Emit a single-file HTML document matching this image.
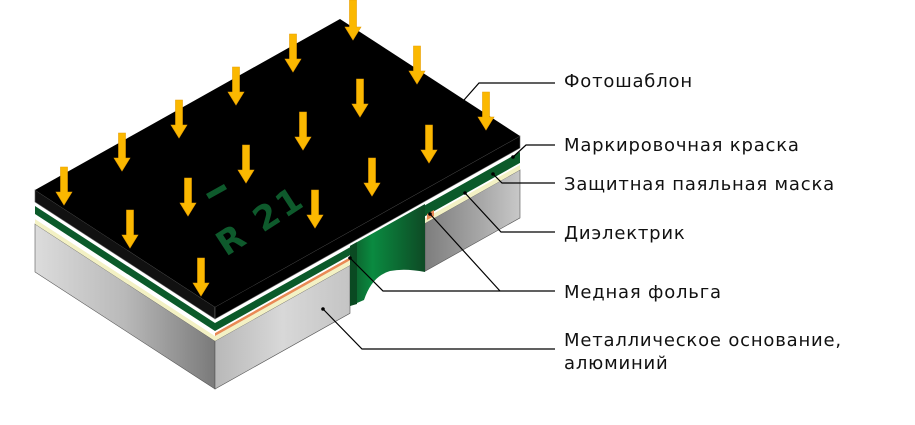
<!DOCTYPE html>
<html><head><meta charset="utf-8"><style>
body{margin:0;background:#fff;width:915px;height:425px;overflow:hidden}
svg{display:block}
text{font-family:"DejaVu Sans","Liberation Sans",sans-serif;font-size:18px;letter-spacing:0.8px;fill:#111}
</style></head><body>
<svg width="915" height="425" viewBox="0 0 915 425" xmlns="http://www.w3.org/2000/svg">
<defs>
<linearGradient id="gl" x1="0" x2="1" y1="0" y2="0"><stop offset="0" stop-color="#dcdcdc"/><stop offset="0.5" stop-color="#b9b9b9"/><stop offset="1" stop-color="#7a7a7a"/></linearGradient>
<linearGradient id="gf" x1="0" x2="1" y1="0" y2="0"><stop offset="0" stop-color="#b8b8b8"/><stop offset="0.5" stop-color="#d8d8d8"/><stop offset="1" stop-color="#c4c4c4"/></linearGradient>
<linearGradient id="gr" x1="0" x2="1" y1="0" y2="0"><stop offset="0" stop-color="#7d7d7d"/><stop offset="0.6" stop-color="#a8a8a8"/><stop offset="1" stop-color="#c8c8c8"/></linearGradient>
<linearGradient id="gw" x1="0" x2="1" y1="0" y2="0"><stop offset="0" stop-color="#0d5a2a"/><stop offset="0.3" stop-color="#0a8a40"/><stop offset="1" stop-color="#0e4a25"/></linearGradient>
</defs>
<polygon points="35,224 215,341 215,389 35,272" fill="url(#gl)" stroke="#555" stroke-width="0.6"/>
<polygon points="35,219 215,336 215,341 35,224" fill="#f3f1c4"/>
<polygon points="35,214 215,331 215,336 35,219" fill="#fff"/>
<polygon points="35,206 215,323 215,331 35,214" fill="#0b5a2a"/>
<polygon points="215,341 350,265.3 350,313.3 215,389" fill="url(#gf)" stroke="#555" stroke-width="0.6"/>
<polygon points="215,336 350,260.3 350,265.3 215,341" fill="#f3f1c4"/>
<polygon points="215,333 350,257.3 350,260.3 215,336" fill="#e98a55"/>
<polygon points="215,331 350,255.3 350,257.3 215,333" fill="#fff"/>
<polygon points="215,323 350,247.3 350,255.3 215,331" fill="#0b5a2a"/>
<polygon points="425,223.2 520,169.9 520,217.9 425,271.2" fill="url(#gr)" stroke="#555" stroke-width="0.6"/>
<polygon points="425,218.2 520,164.9 520,169.9 425,223.2" fill="#f3f1c4"/>
<polygon points="425,216.2 520,162.9 520,164.9 425,218.2" fill="#fff"/>
<polygon points="425,205.2 520,151.9 520,162.9 425,216.2" fill="#0b5a2a"/>
<polygon points="427,214 434,210 434,216 427,220" fill="#e98a55"/>
<path d="M350,246 L425,204 L425,272 Q405,268 390,271 Q372,276 364,300 L350,306 Z" fill="url(#gw)"/>
<path d="M350,246 L357,242 L357,304 L350,306 Z" fill="#0a4a22"/>
<polygon points="35,190 215,307 215,319 35,202" fill="#111" stroke="#666" stroke-width="0.6"/>
<polygon points="215,307 520,136 520,148 215,319" fill="#000" stroke="#666" stroke-width="0.6"/>
<polygon points="35,190 340,19 520,136 215,307" fill="#000"/>
<text x="0" y="0" transform="translate(226,257) rotate(-33)" style="font-size:34px;font-weight:bold;letter-spacing:3px;fill:#0e5a2c;font-family:'DejaVu Sans',sans-serif">R 21</text>
<polygon points="206,194 224,184 227,189 209,199" fill="#0e5a2c"/>
<g fill="#fbb800" stroke="#e89d00" stroke-width="0.6">
<path d="M349.5,0 h7 v27 h4.5 l-8,13 l-8,-13 h4.5z"/>
<path d="M289.5,34 h7 v25 h4.5 l-8,13 l-8,-13 h4.5z"/>
<path d="M413.5,46 h7 v25 h4.5 l-8,13 l-8,-13 h4.5z"/>
<path d="M232.5,67 h7 v25 h4.5 l-8,13 l-8,-13 h4.5z"/>
<path d="M356.5,79 h7 v25 h4.5 l-8,13 l-8,-13 h4.5z"/>
<path d="M482.5,92 h7 v25 h4.5 l-8,13 l-8,-13 h4.5z"/>
<path d="M175.5,100 h7 v25 h4.5 l-8,13 l-8,-13 h4.5z"/>
<path d="M299.5,112 h7 v25 h4.5 l-8,13 l-8,-13 h4.5z"/>
<path d="M118.5,133 h7 v25 h4.5 l-8,13 l-8,-13 h4.5z"/>
<path d="M242.5,145 h7 v25 h4.5 l-8,13 l-8,-13 h4.5z"/>
<path d="M425.5,125 h7 v25 h4.5 l-8,13 l-8,-13 h4.5z"/>
<path d="M60.5,167 h7 v25 h4.5 l-8,13 l-8,-13 h4.5z"/>
<path d="M184.5,178 h7 v25 h4.5 l-8,13 l-8,-13 h4.5z"/>
<path d="M368.5,158 h7 v25 h4.5 l-8,13 l-8,-13 h4.5z"/>
<path d="M311.5,190 h7 v25 h4.5 l-8,13 l-8,-13 h4.5z"/>
<path d="M126.5,210 h7 v25 h4.5 l-8,13 l-8,-13 h4.5z"/>
<path d="M197.5,258 h7 v25 h4.5 l-8,13 l-8,-13 h4.5z"/>
</g>
<g stroke="#000" stroke-width="1.2" fill="none">
<polyline points="464,100 479,83 555,83"/>
<polyline points="513,157 526,145 555,145"/>
<polyline points="493,174 502,183 555,183"/>
<polyline points="465,193 501,232 555,232"/>
<polyline points="350,258 383,291 555,291"/>
<polyline points="430,214 500,291"/>
<polyline points="323,309 362,349 555,349"/>
</g>
<g fill="#000"><circle cx="513" cy="157" r="1.8"/><circle cx="493" cy="174" r="1.8"/><circle cx="465" cy="193" r="1.8"/><circle cx="350" cy="258" r="1.8"/><circle cx="430" cy="214" r="1.8"/><circle cx="323" cy="309" r="1.8"/></g>
<text x="564" y="87">Фотошаблон</text>
<text x="564" y="151">Маркировочная краска</text>
<text x="564" y="190">Защитная паяльная маска</text>
<text x="564" y="239">Диэлектрик</text>
<text x="564" y="298">Медная фольга</text>
<text x="564" y="346">Металлическое основание,</text>
<text x="564" y="369">алюминий</text>
</svg>
</body></html>
